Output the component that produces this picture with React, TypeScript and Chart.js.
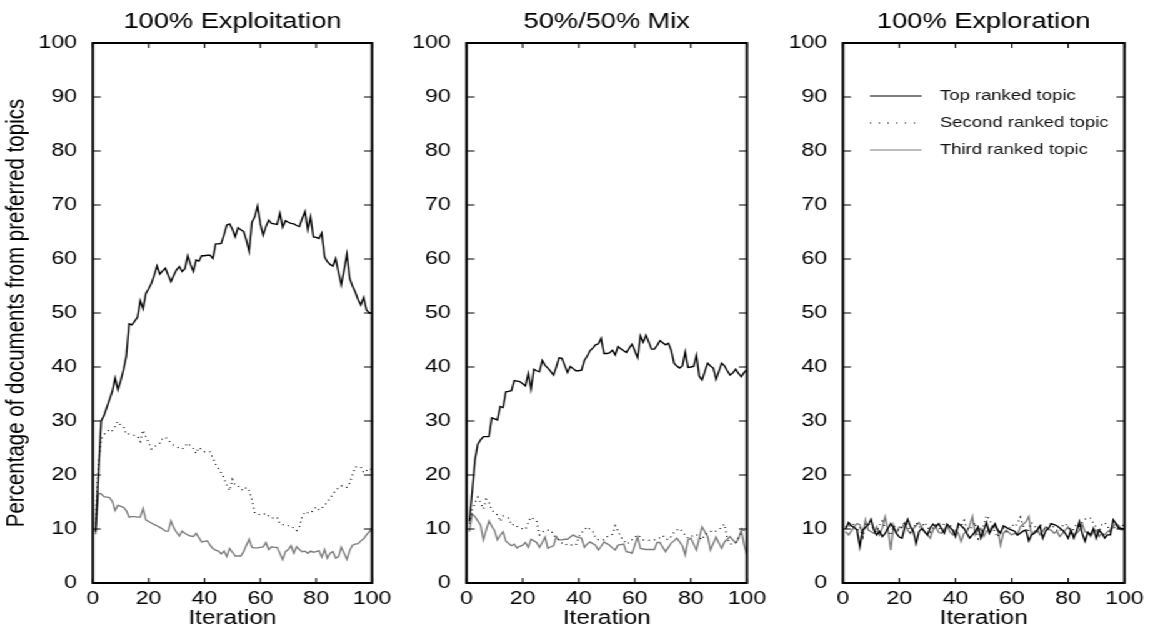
import React, { useEffect, useRef } from "react";
import { Chart, registerables } from "chart.js";

Chart.register(...registerables);

// ---------------- data ----------------
const iterations: number[] = Array.from({ length: 100 }, (_, i) => i + 1);

const panelTitles = ["100% Exploitation", "50%/50% Mix", "100% Exploration"];
const seriesLabels = ["Top ranked topic", "Second ranked topic", "Third ranked topic"];
const yAxisTitle = "Percentage of documents from preferred topics";
const xAxisTitle = "Iteration";

const exploitTop = [
  9.5, 20, 30, 31, 32.5, 34, 35.5, 38, 35.8, 37.5,
  39.5, 42, 48, 47.8, 48.5, 49.2, 52.3, 50.8, 53.6, 54.5,
  55.5, 57, 58.7, 57.2, 57.8, 58.3, 57, 55.8, 57, 58,
  58.6, 57.7, 58.2, 60.6, 59, 57.7, 59.8, 59.6, 60.6, 60.6,
  60.7, 60.7, 60.1, 62.8, 62.8, 62.9, 64.5, 66.3, 66.5, 65.5,
  64.1, 65.8, 65.4, 65.1, 63.5, 61.4, 66.8, 67.8, 69.8, 66.5,
  64.4, 66, 67.2, 66.6, 66.5, 66.4, 68.5, 65.9, 67.1, 66.8,
  66.6, 66.5, 66.2, 66, 67.5, 68.8, 65.4, 67.8, 64.1, 64,
  63.8, 64.8, 60.4, 59.5, 59, 58.7, 60.1, 57.5, 55.2, 58,
  60.9, 56.4, 55, 53.9, 52.5, 51.5, 52.9, 50.6, 50, 50,
];
const exploitSecond = [
  11, 22, 26.5, 27.5, 28, 28.5, 28.2, 29, 29.9, 29.2,
  28.9, 27.5, 27.6, 27.5, 27.3, 27.2, 26.2, 28.3, 27.1, 26,
  24.8, 25.3, 25.5, 25.9, 26.8, 27, 26.5, 25.9, 25.5, 25.2,
  25, 24.8, 25.3, 25.9, 25.4, 24.9, 24, 25.1, 24.7, 24.3,
  24.3, 24.3, 23.1, 22, 21.2, 20.4, 19.4, 18.1, 17.1, 19.2,
  18.1, 18, 17.5, 17.1, 17.7, 17.1, 15.4, 12.9, 12.8, 12.6,
  12.7, 12.9, 12.4, 12, 12.1, 12.2, 10.9, 10.8, 10.6, 10.6,
  10.6, 10.1, 9.7, 10.4, 12.3, 13.2, 13, 12.9, 13.5, 14.1,
  13.5, 13.8, 14.4, 15, 15.7, 16.5, 17.2, 17.6, 18, 17.7,
  17.7, 18.5, 20, 21.5, 21.5, 21.5, 20.4, 20.8, 21.2, 21,
];
const exploitThird = [
  9, 16.6, 16.5, 16, 15.9, 15.8, 15.1, 13.4, 14.4, 14.2,
  14, 13.4, 12.2, 12.3, 12.3, 12.2, 12.2, 13.8, 11.7, 11.4,
  11.1, 10.8, 10.6, 10.3, 10, 9.6, 9.6, 11.5, 10.2, 9.4,
  8.7, 9.6, 9.2, 8.9, 8.7, 8.6, 9.2, 8.4, 7.6, 7.7,
  7.8, 7, 6.4, 6.1, 5.9, 5.4, 5.9, 4.9, 6.4, 5.7,
  5, 5, 5, 5.8, 7, 8.1, 6.6, 6.5, 6.5, 6.6,
  6.7, 7.5, 6.2, 6.7, 6.6, 6.6, 5.5, 4.3, 5.8, 6.2,
  6.9, 5.5, 6.7, 6.2, 5.8, 5.9, 5.5, 5.9, 5.7, 5.8,
  6, 4.8, 6.2, 4.6, 5.5, 5.8, 4.6, 4.9, 6.6, 5.5,
  4.4, 6, 7, 7.2, 7.3, 7.8, 8.2, 8.9, 9.5, 10,
];

const mixTop = [
  11.4, 16.9, 22.8, 25.7, 26.5, 27.1, 27.1, 27.1, 30.6, 30.4,
  30.2, 32.7, 32.5, 35.4, 35.5, 35.6, 37.5, 37.4, 37.3, 36.9,
  36.5, 38.8, 35.9, 39.6, 39.3, 39.1, 41.2, 40.3, 39.8, 39.2,
  38.5, 40, 41.7, 41.6, 40.3, 39, 40.1, 39.7, 39.3, 39.3,
  39.4, 41.2, 42, 43, 43.5, 44.1, 44.3, 45.3, 42.5, 42.5,
  42.6, 43.1, 42.2, 43.8, 43.4, 43, 42.7, 43.5, 44.2, 43,
  41.7, 45.8, 44.6, 45.9, 44.6, 43.3, 43.3, 44, 44.9, 44.5,
  44.1, 44.4, 43.1, 40.7, 40.2, 39.8, 40.2, 42.8, 39.9, 40,
  40.1, 42.2, 38.3, 37.6, 39.2, 40.7, 40.2, 39.8, 37.7, 39.2,
  40.7, 40.2, 39.3, 38.5, 38.9, 39.6, 38.8, 38.2, 39, 39.5,
];
const mixSecond = [
  11, 13.5, 14.8, 15.9, 14.9, 13.7, 15.5, 14.9, 13.5, 13,
  12.6, 11.4, 12.4, 12.3, 12, 10.7, 10.9, 10.5, 10.3, 10,
  9.9, 11.2, 12.2, 11.8, 11.4, 8.9, 9.4, 9.8, 9.8, 9.8,
  9, 8.3, 7.8, 7.4, 7, 7.2, 7, 7.1, 7, 8.5,
  9.3, 9.8, 10.4, 9.9, 9.6, 8.3, 8, 8.1, 8, 8.5,
  8.8, 9, 10.6, 9.7, 8.5, 8, 7.2, 7.5, 8, 8.4,
  8.9, 8.5, 8, 8, 7.9, 8, 8, 8.1, 8.4, 8.8,
  8.2, 8, 8.6, 9.4, 9.8, 10.1, 9.5, 8.8, 8.3, 8.6,
  8.8, 9, 8.5, 8, 9, 9.2, 9.5, 9.8, 9.6, 9.8,
  10.4, 10.9, 8.3, 7.2, 7.3, 7.4, 8.5, 9.3, 9.8, 10,
];
const mixThird = [
  9.5, 12.8, 12.3, 11.5, 10.7, 8, 9.8, 11.5, 10.5, 9.7,
  8, 8.8, 9.5, 7.8, 7.3, 6.9, 7.2, 6.5, 6.8, 7,
  7.5, 6.6, 8.1, 7.8, 7.5, 6.6, 7.5, 8.5, 6.4, 6.7,
  6.9, 8.6, 8, 8, 8.1, 8.1, 8.5, 8.9, 8.6, 8.4,
  8.3, 6.6, 7.2, 7.6, 7.3, 7, 6.1, 6.8, 7.6, 7.3,
  7, 6.5, 6.1, 7, 7.1, 7.2, 5.8, 5.7, 5.5, 7,
  8.5, 6.4, 6.3, 6.2, 6.2, 6.2, 6.2, 7.5, 7.5, 6.6,
  5.8, 6.6, 7.4, 7.8, 8.3, 7.6, 6.9, 5.2, 8, 8.3,
  7.2, 6.1, 8.3, 10.4, 9.5, 8.6, 6.1, 7.3, 8.5, 7.4,
  6.4, 7.6, 8.1, 8.6, 8, 7.4, 8.2, 9.8, 7, 5.2,
];

const exploreTop = [
  10, 11.2, 10.6, 10.3, 9.8, 6.7, 9.8, 10.3, 10.8, 11.8,
  9.8, 8.9, 9.6, 8.6, 9.2, 10.1, 11, 10.2, 9.2, 8.5,
  8.3, 10.4, 11.8, 10.4, 9.6, 7.3, 9.5, 10.1, 9.5, 8.9,
  10.2, 10.9, 10.4, 11, 10.1, 9.2, 10.9, 10.3, 9.8, 8.6,
  11, 10.6, 10.1, 9.2, 8.3, 8.9, 9.5, 10.4, 8.3, 9.8,
  11.2, 9.2, 10.1, 11, 9.8, 9.2, 10.6, 10.3, 10, 9.8,
  9.6, 8.9, 9.2, 9.6, 9.8, 7.8, 8.9, 9.2, 9.8, 10.6,
  8.3, 9.6, 10.1, 11, 10.8, 10.6, 10.2, 9.8, 9.2, 8.3,
  9.8, 8.3, 9.6, 11.4, 9.2, 7.7, 9.4, 8.9, 10.1, 8.3,
  9.8, 9.2, 8.3, 8.9, 8.9, 11.7, 11, 10.1, 10.1, 10,
];
const exploreSecond = [
  10.5, 10.2, 11, 10.8, 9.6, 10.4, 8.5, 10.8, 11.2, 10.5,
  10, 9.4, 10.7, 11.5, 10.3, 9.6, 8.8, 10.6, 10.1, 9.7,
  10.4, 11.3, 10.8, 9.2, 10, 11.2, 10.4, 10.3, 11.2, 10.6,
  9.4, 10.2, 10.8, 10.3, 9.7, 11.1, 10.7, 10.9, 9.8, 8.9,
  10.4, 10.5, 11.6, 10.2, 9.8, 10.6, 11.2, 8.2, 9.1, 10.6,
  12.5, 11.8, 10.8, 9.3, 8.5, 9.8, 10.2, 9.5, 10, 10.8,
  10.4, 11, 12.2, 10.6, 9.4, 9.8, 11.2, 10.7, 9.6, 10.9,
  10.3, 9.8, 10.8, 11, 10.2, 9.8, 9.5, 10.6, 11, 10.4,
  9.2, 10, 10.9, 10.5, 11.2, 11.8, 12.1, 12, 11, 10.4,
  9.5, 10.8, 11.2, 10.6, 9.4, 10.5, 10, 10.3, 10.8, 10.5,
];
const exploreThird = [
  9.5, 8.9, 9.6, 10.4, 11, 10.8, 8.9, 11.7, 9.8, 9.5,
  9.2, 10.4, 8.9, 10.2, 12.3, 9.9, 6.1, 10.7, 9.2, 10.4,
  10.2, 11.2, 9.8, 9.2, 10.1, 10.6, 11.2, 10.4, 9.5, 8.9,
  8.3, 9.8, 10.4, 9.4, 9.2, 9.9, 10.6, 9.5, 8.9, 9.8,
  9.2, 7.7, 9.2, 9.5, 10.6, 12.3, 8.9, 9.8, 10.1, 8.6,
  9.6, 9.8, 10.5, 10.4, 9.8, 7, 9.2, 9.8, 9.3, 8.9,
  9.2, 8.9, 10.4, 10.9, 11.3, 12.3, 8.9, 9.6, 9.8, 8.9,
  9.6, 10.4, 9.9, 9.8, 9.2, 9.6, 8.6, 9.2, 9.8, 10.4,
  9.5, 8.9, 9.2, 9.8, 10.9, 9.5, 9.3, 8.6, 9.5, 9.8,
  8.6, 9.2, 8.9, 9.5, 9.8, 10.4, 11, 10.6, 9.8, 10,
];

const xTickStep = 20;
const yTickStep = 10;

// ---------------- layout / style ----------------
const S = 1.25; // horizontal stretch of the whole figure
const FULL_W = 1156;
const H = 627;
const FONT = '"Liberation Sans", Arial, Helvetica, sans-serif';

type PanelDef = {
  title: string;
  series: number[][];
  left: number;
  width: number;
  yWidth: number;
  padRight: number;
  yTitle: boolean;
  legend: boolean;
};

const panels: PanelDef[] = [
  { title: panelTitles[0], series: [exploitTop, exploitSecond, exploitThird], left: 0, width: 320, yWidth: 74.2, padRight: 19.2, yTitle: true, legend: false },
  { title: panelTitles[1], series: [mixTop, mixSecond, mixThird], left: 320, width: 300, yWidth: 53.2, padRight: 20.2, yTitle: false, legend: false },
  { title: panelTitles[2], series: [exploreTop, exploreSecond, exploreThird], left: 620, width: 304, yWidth: 54.4, padRight: 24.4, yTitle: false, legend: true },
];

const seriesStyles = [
  { borderColor: "#000000", borderWidth: 1.35, borderDash: [] as number[] },
  { borderColor: "#000000", borderWidth: 1.2, borderDash: [1, 3.5] },
  { borderColor: "#7c7c7c", borderWidth: 1.35, borderDash: [] as number[] },
];

const framePlugin = {
  id: "frameTicks",
  afterDatasetsDraw(chart: any) {
    const { ctx, chartArea: a, scales } = chart;
    const xs = scales.x;
    const ys = scales.y;
    ctx.save();
    ctx.setLineDash([]);
    ctx.strokeStyle = "#000";
    ctx.lineWidth = 1.1;
    ctx.beginPath();
    ys.ticks.forEach((t: any) => {
      const py = ys.getPixelForValue(t.value);
      ctx.moveTo(a.left, py);
      ctx.lineTo(a.left + 6.4, py);
      ctx.moveTo(a.right, py);
      ctx.lineTo(a.right - 6.4, py);
    });
    xs.ticks.forEach((t: any) => {
      const px = xs.getPixelForValue(t.value);
      ctx.moveTo(px, a.bottom);
      ctx.lineTo(px, a.bottom - 5);
      ctx.moveTo(px, a.top);
      ctx.lineTo(px, a.top + 5);
    });
    ctx.stroke();
    ctx.lineWidth = 2;
    ctx.strokeRect(a.left, a.top, a.right - a.left, a.bottom - a.top);
    ctx.restore();
  },
};

const legendPlugin = {
  id: "insideLegend",
  afterDraw(chart: any) {
    const opts = chart.options.plugins.insideLegend;
    if (!opts || !opts.show) return;
    const { ctx, chartArea: a } = chart;
    ctx.save();
    chart.data.datasets.forEach((ds: any, i: number) => {
      const y = a.top + 53 + i * 27;
      ctx.strokeStyle = ds.borderColor;
      ctx.lineWidth = 1.1;
      ctx.setLineDash(i === 1 ? [1, 6] : []);
      ctx.beginPath();
      ctx.moveTo(a.left + 21.6, y);
      ctx.lineTo(a.left + 63, y);
      ctx.stroke();
      ctx.setLineDash([]);
      ctx.fillStyle = "#111";
      ctx.font = `14.8px ${FONT}`;
      ctx.textAlign = "left";
      ctx.textBaseline = "middle";
      ctx.fillText(ds.label, a.left + 77.6, y);
    });
    ctx.restore();
  },
};

function Panel({ def }: { def: PanelDef }) {
  const ref = useRef<HTMLCanvasElement>(null);
  useEffect(() => {
    if (!ref.current) return;
    const datasets = def.series.map((arr, si) => ({
      label: seriesLabels[si],
      data: arr.map((v, i) => ({ x: iterations[i], y: v })),
      borderColor: seriesStyles[si].borderColor,
      borderWidth: seriesStyles[si].borderWidth,
      borderDash: seriesStyles[si].borderDash,
      pointRadius: 0,
      tension: 0,
      fill: false,
    }));
    const chart = new Chart(ref.current, {
      type: "line",
      data: { datasets },
      options: {
        responsive: false,
        maintainAspectRatio: false,
        animation: false,
        events: [],
        layout: { padding: { left: 0, right: def.padRight, top: 0, bottom: 0 } },
        plugins: {
          legend: { display: false },
          tooltip: { enabled: false },
          title: {
            display: true,
            text: def.title,
            fullSize: false,
            color: "#000",
            font: { family: FONT, size: 21.8, weight: "normal", lineHeight: 1 },
            padding: { top: 10.6, bottom: 10.6 },
          },
          insideLegend: { show: def.legend },
        } as any,
        scales: {
          x: {
            type: "linear",
            min: 0,
            max: 100,
            grid: { display: false, drawTicks: false },
            border: { display: false },
            ticks: {
              stepSize: xTickStep,
              autoSkip: false,
              maxRotation: 0,
              color: "#000",
              padding: 7,
              font: { family: FONT, size: 18.5, lineHeight: 1 },
            },
            title: {
              display: true,
              text: xAxisTitle,
              color: "#000",
              font: { family: FONT, size: 19.5, lineHeight: 0.85 },
              padding: { top: 0, bottom: 0 },
            },
            afterFit: (s: any) => {
              s.height = 44;
            },
          },
          y: {
            type: "linear",
            min: 0,
            max: 100,
            grid: { display: false, drawTicks: false },
            border: { display: false },
            ticks: {
              stepSize: yTickStep,
              color: "#000",
              padding: 12.6,
              font: { family: FONT, size: 18.5, lineHeight: 1 },
            },
            title: {
              display: def.yTitle,
              text: yAxisTitle,
              color: "#000",
              font: { family: FONT, size: 20.5, lineHeight: 1 },
              padding: { top: 3.4, bottom: 0 },
            },
            afterFit: (s: any) => {
              s.width = def.yWidth;
            },
          },
        },
      } as any,
      plugins: [framePlugin, legendPlugin],
    });
    return () => chart.destroy();
  }, [def]);
  return (
    <canvas
      ref={ref}
      width={def.width}
      height={H}
      style={{ position: "absolute", left: def.left, top: 0, width: def.width, height: H, display: "block" }}
    />
  );
}

export default function App() {
  return (
    <div style={{ position: "absolute", left: 0, top: 0, width: FULL_W, height: H, overflow: "hidden", background: "#fff" }}>
      <div
        style={{
          position: "absolute",
          left: 0,
          top: 0,
          width: FULL_W / S,
          height: H,
          transform: `scaleX(${S})`,
          transformOrigin: "0 0",
        }}
      >
        {panels.map((p, i) => (
          <Panel key={i} def={p} />
        ))}
      </div>
    </div>
  );
}
